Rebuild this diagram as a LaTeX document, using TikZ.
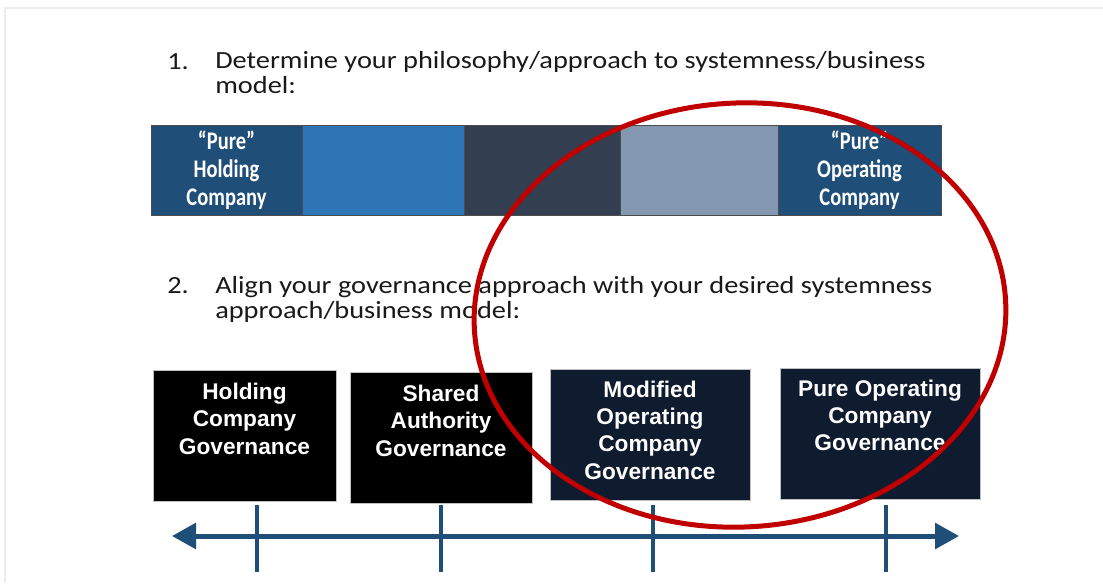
\documentclass[tikz,border=0pt]{standalone}
\usepackage{fontspec}
\setmainfont{Carlito}
\newfontfamily\stepfont[FakeStretch=1.15]{Carlito}
\newfontfamily\barfont[FakeStretch=0.81]{Carlito}
\newfontfamily\govfont{Liberation Sans}
\usetikzlibrary{arrows.meta,positioning}

% Colours of the bar, the boxes and the axis
\definecolor{holdblue}{HTML}{1F4E79}
\definecolor{midblue}{HTML}{2E75B6}
\definecolor{slateblue}{HTML}{333F50}
\definecolor{greyblue}{HTML}{8497B0}
\definecolor{govnavy}{HTML}{0F1B2E}
\definecolor{ringred}{HTML}{C00000}

\begin{document}
\begin{tikzpicture}[x=0.75pt,y=-0.75pt,
  steptext/.style={anchor=base west, inner sep=0pt, align=left, text=black!90,
    font=\stepfont\fontsize{18.5}{18.75}\selectfont},
  barseg/.style={draw=black!70, line width=0.6pt, outer sep=0pt, inner sep=0pt,
    minimum height=67.5pt, text=white, align=center,
    font=\barfont\bfseries\fontsize{19}{21}\selectfont},
  govbox/.style={draw=black!25, line width=0.6pt, minimum height=98.25pt, inner sep=0pt},
  govtext/.style={anchor=north, inner sep=0pt, text=white, align=center,
    font=\govfont\bfseries\fontsize{17}{20.5}\selectfont},
  axisline/.style={draw=holdblue, line width=3.75pt,
    {Triangle[length=18pt,width=19pt]}-{Triangle[length=18pt,width=19pt]}},
  tickline/.style={draw=holdblue, line width=3.4pt},
  ring/.style={draw=ringred, line width=3.75pt}]

% Page
\useasboundingbox[fill=white] (0,0) rectangle (1103,583);
\draw[black!7, line width=1pt] (5,583) -- (5,8) -- (1103,8);

% Step one (base of a two-line node sits on its last line)
\node[steptext] (num1) at (167,69) {1.};
\node[steptext] (step1) at (215,93) {Determine your philosophy/approach to systemness/business\\model:};

% Draw the bar
\node[barseg, fill=holdblue, minimum width=113.25pt] (pholding) at (226.5,170) {“Pure”\\Holding\\Company};
\node[barseg, fill=midblue, minimum width=121.5pt, right=0pt of pholding] (blend1) {};
\node[barseg, fill=slateblue, minimum width=117pt, right=0pt of blend1] (blend2) {};
\node[barseg, fill=greyblue, minimum width=118.5pt, right=0pt of blend2] (blend3) {};
\node[barseg, fill=holdblue, minimum width=122.25pt, right=0pt of blend3] (poperating) {“Pure”\\Operating\\Company};

% Step two
\node[steptext] (num2) at (167,293) {2.};
\node[steptext] (step2) at (215,318) {Align your governance approach with your desired systemness\\approach/business model:};

% Draw the governance boxes
\node[govbox, fill=black, minimum width=137.25pt] (holdgov) at (244.5,435.5) {};
\node[govbox, fill=black, minimum width=136.5pt] (sharedgov) at (441,437.5) {};
\node[govbox, fill=govnavy, minimum width=150pt] (modgov) at (650,434.5) {};
\node[govbox, fill=govnavy, minimum width=150pt] (puregov) at (880,433.5) {};

\node[govtext] (holdgov-t) at ([yshift=-10pt]holdgov.north) {Holding\\Company\\Governance};
\node[govtext] (sharedgov-t) at ([yshift=-10pt]sharedgov.north) {Shared\\Authority\\Governance};
\node[govtext] (modgov-t) at ([yshift=-9pt]modgov.north) {Modified\\Operating\\Company\\Governance};
\node[govtext] (puregov-t) at ([yshift=-9pt]puregov.north) {Pure Operating\\Company\\Governance};

% Draw the axis and its ticks
\coordinate (axl) at (172,536);
\coordinate (axr) at (959,536);
\draw[axisline] (axl) -- (axr);
\foreach \n/\x in {t1/257, t2/441, t3/653, t4/886} {
  \coordinate (\n-top) at (\x,505);
  \coordinate (\n-bot) at (\x,572);
  \draw[tickline] (\n-top) -- (\n-bot);
}

% Draw the ring
\coordinate (ringc) at (740,315);
\draw[ring, rotate around={3:(ringc)}] (ringc) ellipse [x radius=266, y radius=212];

\end{tikzpicture}
\end{document}
